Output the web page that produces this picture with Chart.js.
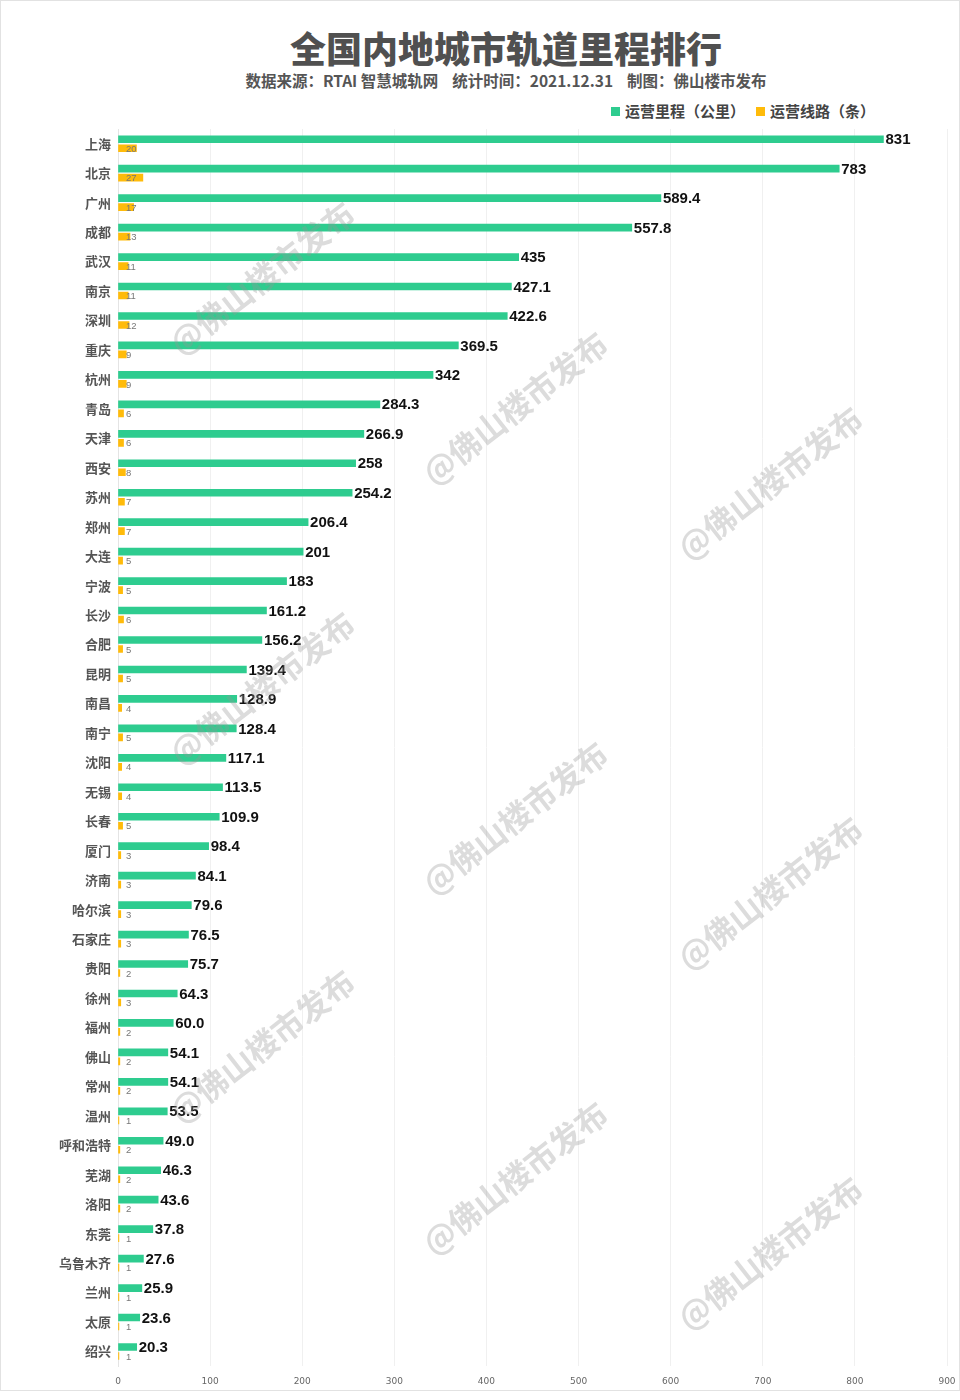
<!DOCTYPE html>
<html>
<head>
<meta charset="utf-8">
<script src="https://cdn.jsdelivr.net/npm/chart.js@4"></script>
<style>
    html, body { margin: 0; padding: 0; background: #fff; }
    body { width: 960px; height: 1400px; position: relative; font-family: "Noto Sans CJK SC", "Noto Sans", sans-serif; }
    .frame { position: absolute; left: 0; top: 0; width: 958px; height: 1389px; border: 1px solid #e2e2e2; }
    .title { position: absolute; left: 0; width: 1012px; top: 24px; text-align: center; font-size: 36px; font-weight: 900; color: #505050; line-height: 46px; }
    .subtitle { position: absolute; left: 0; width: 1012px; top: 69px; text-align: center; font-size: 15.5px; font-weight: 700; color: #555; line-height: 22px; white-space: pre; }
    .legend { position: absolute; left: 611px; top: 100px; font-size: 15px; font-weight: 700; color: #444; line-height: 22px; white-space: nowrap; }
    .legend span.box { display: inline-block; width: 9px; height: 9px; margin-right: 5px; vertical-align: 1px; }
    .legend span.item { margin-right: 11px; }
    #chartWrap { position: absolute; left: 0; top: 0; width: 960px; height: 1400px; }
</style>
</head>
<body>
<div class="frame"></div>
<div class="title">全国内地城市轨道里程排行</div>
<div class="subtitle">数据来源：RTAI 智慧城轨网    统计时间：2021.12.31    制图：佛山楼市发布</div>
<div class="legend"><span class="item"><span class="box" style="background:#2ECC8F"></span>运营里程（公里）</span><span class="item"><span class="box" style="background:#FFBB0A"></span>运营线路（条）</span></div>
<div id="chartWrap"><canvas id="myChart"></canvas></div>
<script>
const cities = ['上海', '北京', '广州', '成都', '武汉', '南京', '深圳', '重庆', '杭州', '青岛',
    '天津', '西安', '苏州', '郑州', '大连', '宁波', '长沙', '合肥', '昆明', '南昌',
    '南宁', '沈阳', '无锡', '长春', '厦门', '济南', '哈尔滨', '石家庄', '贵阳', '徐州',
    '福州', '佛山', '常州', '温州', '呼和浩特', '芜湖', '洛阳', '东莞', '乌鲁木齐', '兰州',
    '太原', '绍兴'];

// 运营里程（公里），kept as text so "60.0" prints as in the picture
const mileage = ['831', '783', '589.4', '557.8', '435', '427.1', '422.6', '369.5', '342', '284.3',
    '266.9', '258', '254.2', '206.4', '201', '183', '161.2', '156.2', '139.4', '128.9',
    '128.4', '117.1', '113.5', '109.9', '98.4', '84.1', '79.6', '76.5', '75.7', '64.3',
    '60.0', '54.1', '54.1', '53.5', '49.0', '46.3', '43.6', '37.8', '27.6', '25.9',
    '23.6', '20.3'];

// 运营线路（条）
const lines = [20, 27, 17, 13, 11, 11, 12, 9, 9, 6,
    6, 8, 7, 7, 5, 5, 6, 5, 5, 4,
    5, 4, 4, 5, 3, 3, 3, 3, 2, 3,
    2, 2, 2, 1, 2, 2, 2, 1, 1, 1,
    1, 1];

const xTicks = [0, 100, 200, 300, 400, 500, 600, 700, 800, 900];

const watermarkText = '@佛山楼市发布';

// value labels next to the bars
const barLabels = {
    id: 'barLabels',
    afterDatasetsDraw(chart) {
        const ctx = chart.ctx;
        const xScale = chart.scales.x;
        ctx.save();
        ctx.textBaseline = 'middle';
        ctx.textAlign = 'left';

        const green = chart.getDatasetMeta(0);
        ctx.font = 'bold 15px "Liberation Sans", Arial, sans-serif';
        ctx.fillStyle = '#111';
        green.data.forEach((bar, i) => {
            ctx.fillText(chart.data.datasets[0].data[i], bar.x + 2, bar.y + 1);
        });

        const orange = chart.getDatasetMeta(1);
        ctx.font = '9.5px "Liberation Sans", Arial, sans-serif';
        ctx.fillStyle = '#777';
        orange.data.forEach((bar, i) => {
            ctx.fillText(String(chart.data.datasets[1].data[i]), xScale.getPixelForValue(0) + 8, bar.y + 1);
        });
        ctx.restore();
    }
};

// faint diagonal watermark
const watermark = {
    id: 'watermark',
    afterDraw(chart) {
        const ctx = chart.ctx;
        const spots = [
            [262, 278], [515, 408], [770, 483],
            [262, 688], [515, 818], [770, 893],
            [262, 1046], [515, 1178], [770, 1253]
        ];
        ctx.save();
        ctx.font = 'bold 32px "Noto Sans CJK SC", sans-serif';
        ctx.fillStyle = 'rgba(150, 150, 150, 0.33)';
        ctx.textAlign = 'center';
        ctx.textBaseline = 'middle';
        spots.forEach(([x, y]) => {
            ctx.save();
            ctx.translate(x, y);
            ctx.rotate(-38 * Math.PI / 180);
            ctx.fillText(watermarkText, 0, 0);
            ctx.restore();
        });
        ctx.restore();
    }
};

const chart = new Chart(document.getElementById('myChart'), {
    type: 'bar',
    data: {
        labels: cities,
        datasets: [
            {
                label: '运营里程（公里）',
                data: mileage,
                backgroundColor: '#2ECC8F',
                barThickness: 9,
                maxBarThickness: 7
            },
            {
                label: '运营线路（条）',
                data: lines,
                backgroundColor: '#FFBB0A',
                barThickness: 9,
                maxBarThickness: 7
            }
        ]
    },
    options: {
        indexAxis: 'y',
        responsive: true,
        maintainAspectRatio: false,
        animation: false,
        layout: {
            padding: { top: 129, right: 13, bottom: 3, left: 0 }
        },
        plugins: {
            legend: { display: false },
            tooltip: { enabled: false }
        },
        scales: {
            x: {
                min: 0,
                max: 900,
                afterBuildTicks: (scale) => {
                    scale.ticks = xTicks.map(v => ({ value: v }));
                },
                afterFit: (scale) => {
                    scale.paddingRight = 0;
                    scale.paddingLeft = 0;
                },
                ticks: {
                    padding: 10,
                    font: { size: 9, family: '"DejaVu Sans", sans-serif' },
                    color: '#666'
                },
                grid: {
                    color: '#f0f0f0',
                    drawTicks: false
                },
                border: { display: false }
            },
            y: {
                afterFit: (scale) => { scale.width = 118; },
                ticks: {
                    padding: 7,
                    autoSkip: false,
                    font: { size: 13, weight: 'bold', family: '"Noto Sans CJK SC", sans-serif' },
                    color: '#555'
                },
                grid: { display: false, drawTicks: false },
                border: { display: true, color: '#e4e4e4' }
            }
        }
    },
    plugins: [barLabels, watermark]
});
</script>
</body>
</html>
